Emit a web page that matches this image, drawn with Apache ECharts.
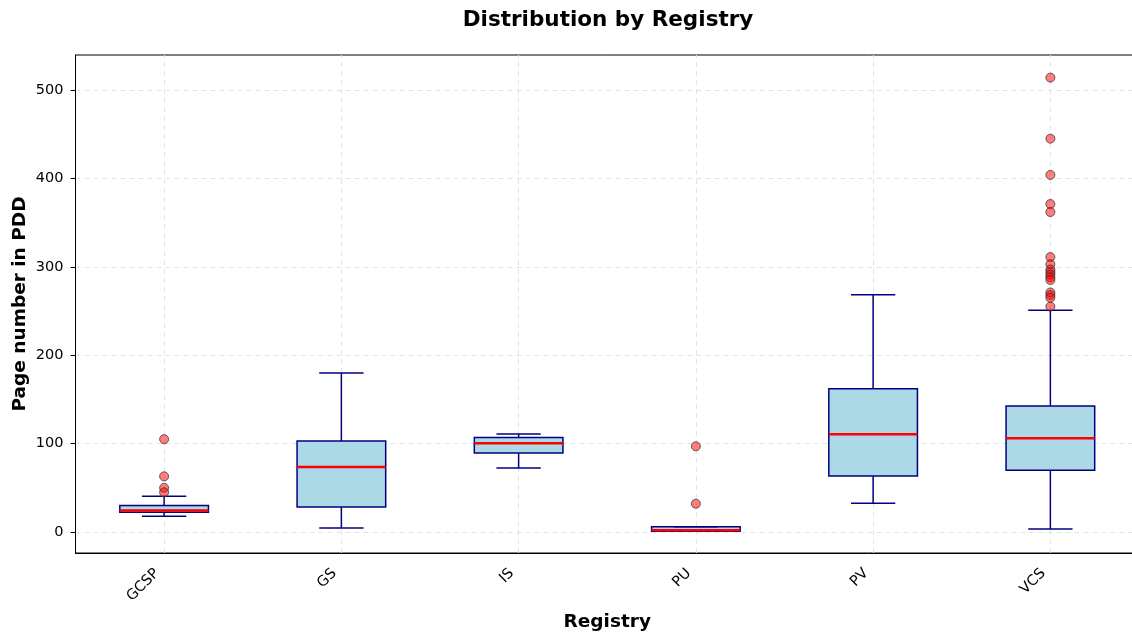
<!DOCTYPE html>
<html>
<head>
<meta charset="utf-8">
<script src="https://cdn.jsdelivr.net/npm/echarts@6/dist/echarts.min.js"></script>
<style>html,body{margin:0;padding:0;background:#fff}#c{width:1132px;height:632px}</style>
</head>
<body>
<div id="c"></div>
<script>
const categories = ['GCSP', 'GS', 'IS', 'PU', 'PV', 'VCS'];
const whiskerLow = [18, 4.5, 72.5, 1, 32.5, 3.5];
const q1 = [22.5, 28.3, 89.5, 1, 63.3, 70];
const median = [24.5, 73.5, 100.5, 2, 110.5, 106];
const q3 = [30, 103, 107, 6, 162, 142.5];
const whiskerHigh = [40.5, 180, 111, 6, 268.5, 251];
const outliersGCSP = [105, 63, 50, 45];
const outliersGS = [];
const outliersIS = [];
const outliersPU = [97, 32];
const outliersPV = [];
const outliersVCS = [514, 445, 404, 371, 362, 311, 303, 297, 294, 291, 288, 285, 271, 268, 265, 255];
const yTicks = [0, 100, 200, 300, 400, 500];

const outlierLists = [outliersGCSP, outliersGS, outliersIS, outliersPU, outliersPV, outliersVCS];
const boxData = categories.map((c, i) => [i, whiskerLow[i], q1[i], median[i], q3[i], whiskerHigh[i]]);
const outlierData = [];
outlierLists.forEach((arr, i) => arr.forEach(v => outlierData.push([i, v])));

const FONT = 'DejaVu Sans';
const chart = echarts.init(document.getElementById('c'), null, {renderer: 'canvas'});
chart.setOption({
  backgroundColor: '#ffffff',
  animation: false,
  title: {
    text: 'Distribution by Registry',
    left: 603, top: 4, textAlign: 'center',
    textStyle: {fontFamily: FONT, fontSize: 21.5, fontWeight: 'bold', color: '#000'}
  },
  grid: {left: 75.5, right: -7, top: 55, bottom: 79, containLabel: false, outerBoundsMode: 'none',
    show: true, borderColor: '#000', borderWidth: 1, backgroundColor: 'transparent'},
  xAxis: {
    type: 'category',
    data: categories,
    boundaryGap: true,
    name: 'Registry',
    nameLocation: 'middle',
    nameGap: 60,
    nameMoveOverlap: false,
    nameTextStyle: {fontFamily: FONT, fontSize: 18.5, fontWeight: 'bold', color: '#000'},
    axisLine: {onZero: false, lineStyle: {color: '#000', width: 1}},
    axisTick: {alignWithLabel: true, length: 5, lineStyle: {color: '#000'}},
    axisLabel: {rotate: 45, fontFamily: FONT, fontSize: 14.5, color: '#000', margin: 11, padding: [0, 10, 0, 0]},
    splitLine: {show: false}
  },
  yAxis: {
    type: 'value',
    min: -23.7, max: 539.6,
    interval: 100,
    name: 'Page number in PDD',
    nameLocation: 'middle',
    nameGap: 46,
    nameMoveOverlap: false,
    nameTextStyle: {fontFamily: FONT, fontSize: 18.5, fontWeight: 'bold', color: '#000'},
    axisLine: {show: true, onZero: false, lineStyle: {color: '#000', width: 1}},
    axisTick: {show: true, length: 5, lineStyle: {color: '#000'}, customValues: yTicks},
    axisLabel: {fontFamily: FONT, fontSize: 14.5, color: '#000', margin: 12, customValues: yTicks},
    splitLine: {show: true, lineStyle: {color: '#e3e3e3', type: [5, 4], width: 1}}
  },
  series: [
    {
      type: 'line',
      data: [],
      silent: true,
      z: 0,
      markLine: {
        silent: true,
        z: 0,
        symbol: ['none', 'none'],
        label: {show: false},
        lineStyle: {color: '#e3e3e3', type: [5, 4], width: 1},
        data: categories.map(c => ({xAxis: c}))
      }
    },
    {
      type: 'custom',
      z: 2,
      data: boxData,
      encode: {x: 0, y: [1, 2, 3, 4, 5]},
      renderItem: function (params, api) {
        const x = api.value(0);
        const pLow = api.coord([x, api.value(1)]);
        const pQ1 = api.coord([x, api.value(2)]);
        const pMed = api.coord([x, api.value(3)]);
        const pQ3 = api.coord([x, api.value(4)]);
        const pHigh = api.coord([x, api.value(5)]);
        const bw = api.size([1, 0])[0] * 0.5;
        const cw = bw / 2;
        const cx = pLow[0];
        const ls = {stroke: '#000080', lineWidth: 1.5};
        return {
          type: 'group',
          children: [
            {type: 'rect', shape: {x: cx - bw / 2, y: pQ3[1], width: bw, height: pQ1[1] - pQ3[1]},
              style: {fill: '#add8e6', stroke: '#000080', lineWidth: 1.5}},
            {type: 'line', shape: {x1: cx, y1: pQ1[1], x2: cx, y2: pLow[1]}, style: ls},
            {type: 'line', shape: {x1: cx, y1: pQ3[1], x2: cx, y2: pHigh[1]}, style: ls},
            {type: 'line', shape: {x1: cx - cw / 2, y1: pLow[1], x2: cx + cw / 2, y2: pLow[1]}, style: ls},
            {type: 'line', shape: {x1: cx - cw / 2, y1: pHigh[1], x2: cx + cw / 2, y2: pHigh[1]}, style: ls},
            {type: 'line', shape: {x1: cx - bw / 2, y1: pMed[1], x2: cx + bw / 2, y2: pMed[1]}, style: {stroke: '#ff0000', lineWidth: 2.5}}
          ]
        };
      }
    },
    {
      type: 'scatter',
      z: 3,
      data: outlierData,
      symbol: 'circle',
      symbolSize: 9,
      itemStyle: {color: 'rgba(255,0,0,0.5)', borderColor: 'rgba(50,50,50,0.75)', borderWidth: 1, opacity: 1}
    }
  ]
});
</script>
</body>
</html>
